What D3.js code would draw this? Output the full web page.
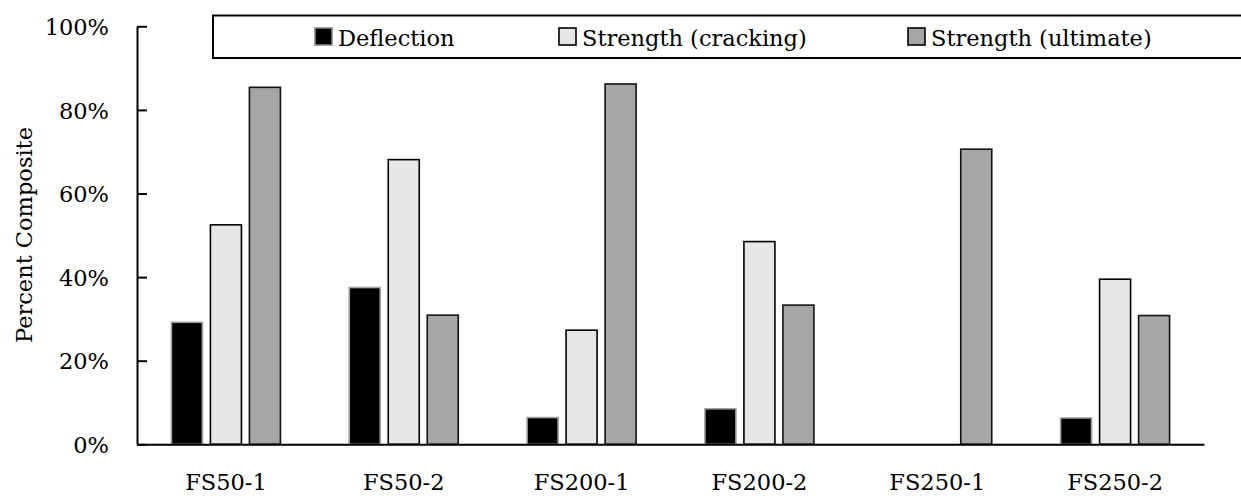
<!DOCTYPE html>
<html>
<head>
<meta charset="utf-8">
<script src="https://cdn.jsdelivr.net/npm/d3@7"></script>
<style>
  html, body { margin: 0; padding: 0; background: #fff; }
  svg { display: block; }
  text { font-family: "DejaVu Serif", serif; fill: #000; }
</style>
</head>
<body>
<svg id="chart" width="1241" height="496"></svg>
<script>
// ---- data ----
const categories = ["FS50-1", "FS50-2", "FS200-1", "FS200-2", "FS250-1", "FS250-2"];
const seriesNames = ["Deflection", "Strength (cracking)", "Strength (ultimate)"];
const deflection = [29.2, 37.5, 6.4, 8.5, null, 6.3];
const strengthCracking = [52.5, 68.1, 27.3, 48.5, null, 39.5];
const strengthUltimate = [85.4, 30.9, 86.2, 33.3, 70.6, 30.8];
const yTicks = [0, 20, 40, 60, 80, 100];

// ---- styles ----
const fills = ["#000000", "#e6e6e6", "#a6a6a6"];
const strokes = ["#a0a0a0", "#000000", "#111111"];
const FS = 22.5;

const svg = d3.select("#chart");
const W = 1241, H = 496;
const margin = { left: 137, right: 37, top: 26.3, bottom: 51.7 };
const plotBottom = H - margin.bottom;

const values = [deflection, strengthCracking, strengthUltimate];
const rows = categories.map((c, i) => ({
  cat: c,
  vals: seriesNames.map((s, j) => ({ s, j, v: values[j][i] }))
}));

const x0 = d3.scaleBand().domain(categories)
  .range([margin.left, W - margin.right])
  .paddingInner(0.387).paddingOuter(0.1935);
const x1 = d3.scaleBand().domain(seriesNames)
  .range([0, x0.bandwidth()]).paddingInner(0.205).paddingOuter(0);
const y = d3.scaleLinear().domain([0, 100]).range([plotBottom, margin.top]);

// bars
const g = svg.append("g");
g.selectAll("g.grp").data(rows).join("g")
  .attr("class", "grp")
  .attr("transform", d => `translate(${x0(d.cat)},0)`)
  .selectAll("rect").data(d => d.vals.filter(e => e.v != null)).join("rect")
  .attr("x", d => x1(d.s))
  .attr("width", x1.bandwidth())
  .attr("y", d => y(d.v))
  .attr("height", d => y(0) - y(d.v))
  .attr("fill", d => fills[d.j])
  .attr("stroke", d => strokes[d.j])
  .attr("stroke-width", 1.6);

// y axis
const yAxis = d3.axisLeft(y).tickValues(yTicks).tickFormat(d => d + "%")
  .tickSizeInner(-10).tickSizeOuter(0).tickPadding(28);
const gy = svg.append("g").attr("transform", `translate(${margin.left},0)`).call(yAxis);
gy.select(".domain").attr("stroke", "#000").attr("stroke-width", 2);
gy.selectAll(".tick line").attr("stroke", "#000").attr("stroke-width", 2);
gy.selectAll(".tick text").attr("font-size", FS).attr("font-family", "DejaVu Serif").attr("dy", "0.36em");

// x axis
const xAxis = d3.axisBottom(x0).tickSize(0).tickPadding(30);
const gx = svg.append("g").attr("transform", `translate(0,${plotBottom})`).call(xAxis);
gx.select(".domain").attr("stroke", "#000").attr("stroke-width", 2);
gx.selectAll(".tick text").attr("font-size", FS).attr("font-family", "DejaVu Serif");

// y label
svg.append("text")
  .attr("transform", `translate(32,235) rotate(-90)`)
  .attr("text-anchor", "middle")
  .attr("font-size", FS)
  .text("Percent Composite");

// legend
const lg = svg.append("g");
lg.append("rect").attr("x", 213).attr("y", 15.5).attr("width", 1100).attr("height", 42.5)
  .attr("fill", "#fff").attr("stroke", "#000").attr("stroke-width", 2);
const legendX = [315, 559, 908];
seriesNames.forEach((s, j) => {
  lg.append("rect").attr("x", legendX[j]).attr("y", 28).attr("width", 17).attr("height", 17)
    .attr("fill", fills[j]).attr("stroke", j === 0 ? "#888" : "#000").attr("stroke-width", 1.6);
  lg.append("text").attr("x", legendX[j] + 23).attr("y", 45.5)
    .attr("font-size", FS).text(s);
});
</script>
</body>
</html>
